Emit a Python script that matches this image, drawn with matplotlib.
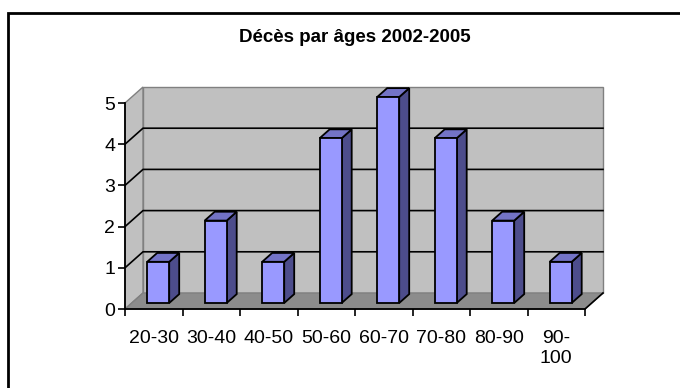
import matplotlib
matplotlib.use('Agg')
import matplotlib.pyplot as plt
from matplotlib.patches import Polygon, Rectangle

plt.rcParams['font.family'] = ['Liberation Sans', 'DejaVu Sans']

title = "Décès par âges 2002-2005"
age_groups = ["20-30", "30-40", "40-50", "50-60", "60-70", "70-80", "80-90", "90-\n100"]
deaths = [1, 2, 1, 4, 5, 4, 2, 1]
y_ticks = [0, 1, 2, 3, 4, 5]

W, H = 680, 388
fig = plt.figure(figsize=(W / 100, H / 100), dpi=100)
fig.patch.set_facecolor('white')

# front plane of the 3d box, in pixels
left, right, bottom, top = 125, 585, 309, 103
ax = fig.add_axes([left / W, 1 - bottom / H, (right - left) / W, (bottom - top) / H])
ax.set_xlim(0, len(deaths))
ax.set_ylim(0, max(y_ticks))
ax.patch.set_visible(False)

# depth offset of the back wall, in data units
DX = 18 / ((right - left) / len(deaths))
DY = 16 / ((bottom - top) / max(y_ticks))
n = len(deaths)
ymax = max(y_ticks)

wall = '#C0C0C0'
edge = '#808080'
ax.add_patch(Polygon([(DX, DY), (n + DX, DY), (n + DX, ymax + DY), (DX, ymax + DY)],
                     closed=True, fc=wall, ec=edge, lw=1, clip_on=False, zorder=0))
ax.add_patch(Polygon([(0, 0), (DX, DY), (DX, ymax + DY), (0, ymax)],
                     closed=True, fc=wall, ec=edge, lw=1, clip_on=False, zorder=0))
ax.add_patch(Polygon([(0, 0), (n, 0), (n + DX, DY), (DX, DY)],
                     closed=True, fc='#8C8C8C', ec=edge, lw=1, clip_on=False, zorder=0.5))
ax.plot([n, n + DX], [0, DY], color='black', lw=1.2, clip_on=False, zorder=0.6)

# gridlines along the left wall and the back wall
for k in y_ticks[1:-1]:
    ax.plot([0, DX, n + DX], [k, k + DY, k + DY], color='black', lw=1.2,
            clip_on=False, zorder=1)

# 3d bars
w = 0.383
f0, f1 = 0.375, 0.93
ddx, ddy = (f1 - f0) * DX, (f1 - f0) * DY
for i, v in enumerate(deaths):
    x0 = i + 0.46 - w / 2 + f0 * DX
    x1 = x0 + w
    y0 = f0 * DY
    y1 = v + f0 * DY
    kw = dict(closed=True, ec='black', lw=1.3, clip_on=False, zorder=3)
    ax.add_patch(Polygon([(x1, y0), (x1 + ddx, y0 + ddy), (x1 + ddx, y1 + ddy), (x1, y1)],
                         fc='#4D4D8C', **kw))
    ax.add_patch(Polygon([(x0, y1), (x1, y1), (x1 + ddx, y1 + ddy), (x0 + ddx, y1 + ddy)],
                         fc='#7373C6', **kw))
    ax.add_patch(Polygon([(x0, y0), (x1, y0), (x1, y1), (x0, y1)],
                         fc='#9999FF', **kw))

# axes
for s in ['top', 'right']:
    ax.spines[s].set_visible(False)
for s in ['left', 'bottom']:
    ax.spines[s].set_linewidth(1.3)
    ax.spines[s].set_zorder(2)
ax.set_yticks(y_ticks)
ax.set_xticks(range(n + 1))
ax.set_xticklabels([])
ax.set_xticks([i + 0.5 for i in range(n)], minor=True)
ax.set_xticklabels(age_groups, minor=True, fontsize=14, va='top', linespacing=1.25)
ax.tick_params(axis='x', which='major', direction='out', length=5, width=1.2)
ax.tick_params(axis='x', which='minor', length=0, pad=15)
ax.tick_params(axis='y', direction='out', length=5, width=1.2, labelsize=14, pad=2)

fig.text(355 / W, 1 - 37 / H, title, ha='center', va='center',
         fontsize=13.5, fontweight='bold')

# chart area border
fig.patches.append(Rectangle((8 / W, -0.1), 1.2, 1.1 - 13 / H, transform=fig.transFigure,
                             fill=False, ec='black', lw=2, figure=fig))

fig.savefig('out.png', dpi=100, facecolor='white')
